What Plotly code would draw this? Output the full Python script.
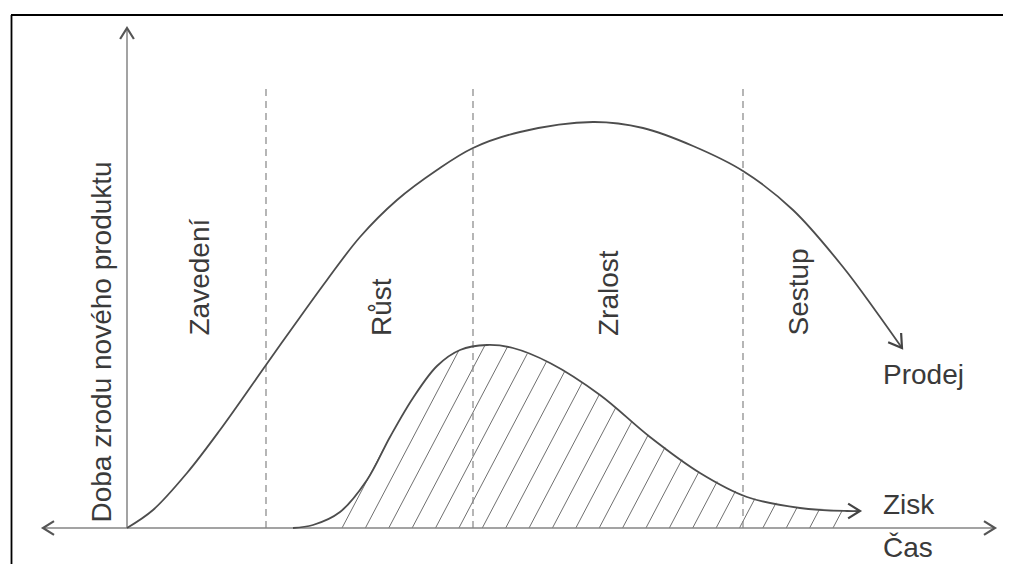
import numpy as np
import plotly.graph_objects as go

# ---- data (time units along x, value units along y) ----
sales_t = [0, 26, 60, 93, 139, 166, 200, 233, 270, 310, 346, 393, 466, 516, 566, 616, 666, 716, 748, 775]
sales_v = [0, 18, 55, 98, 163, 201, 248, 291, 328, 358, 380, 396, 406, 400, 382, 357, 318, 261, 218, 180]

profit_t = [166, 186, 213, 240, 263, 286, 310, 333, 360, 386, 423, 473, 523, 573, 620, 673, 720, 733]
profit_v = [0, 3, 16, 48, 91, 130, 162, 178, 183, 180, 165, 133, 91, 55, 31, 20, 17, 17]

phase_bounds = [139, 346, 616]
phase_names = ["Zavedení", "Růst", "Zralost", "Sestup"]
phase_label_t = [72, 254, 481, 671]

axis_left_t = -84
axis_right_t = 868
axis_top_v = 500
phase_top_v = 440

# ---- style ----
FONT = "Liberation Sans, Arial, sans-serif"
TXT = "#3a3a3a"
CURVE = "#4d4d4d"
AXIS = "#858585"
HATCH = "#707070"
FS = 28

hatch_start = 215.0
hatch_step = 23.38
hatch_count = 22
hatch_slope = 1.9

# page offset of the browser (default body margin)
OFF = 8

fig = go.Figure()

def chevron(tip, direction, L=13.0, ang=32.0):
    d = np.array(direction, float)
    d /= np.linalg.norm(d)
    b = -d
    pts = []
    for s in (1, -1):
        a = np.radians(ang) * s
        r = np.array([b[0]*np.cos(a) - b[1]*np.sin(a), b[0]*np.sin(a) + b[1]*np.cos(a)])
        pts.append(np.array(tip) + L*r)
    return [pts[0][0], tip[0], pts[1][0]], [pts[0][1], tip[1], pts[1][1]]

# hatch lines under profit curve
hx, hy = [], []
for k in range(hatch_count):
    tb = hatch_start + k*hatch_step
    s = np.arange(tb, tb + 300, 0.25)
    prof = np.interp(s, profit_t, profit_v, right=-1)
    line = hatch_slope*(s - tb)
    idx = np.argmax(line >= prof)
    hx += [tb, s[idx], None]
    hy += [0, line[idx], None]
fig.add_trace(go.Scatter(x=hx, y=hy, mode="lines", line=dict(color=HATCH, width=1), hoverinfo="skip"))

# phase boundaries
for b in phase_bounds:
    fig.add_trace(go.Scatter(x=[b, b], y=[0, phase_top_v], mode="lines",
                             line=dict(color=AXIS, width=1.2, dash="7px,5px"), hoverinfo="skip"))

# axes
fig.add_trace(go.Scatter(x=[axis_left_t, axis_right_t], y=[0, 0], mode="lines",
                         line=dict(color=AXIS, width=1.5), hoverinfo="skip"))
fig.add_trace(go.Scatter(x=[0, 0], y=[0, axis_top_v], mode="lines",
                         line=dict(color=AXIS, width=1.5), hoverinfo="skip"))
for tip, d in [((0, axis_top_v), (0, 1)), ((axis_right_t, 0), (1, 0)), ((axis_left_t, 0), (-1, 0))]:
    cx, cy = chevron(tip, d)
    fig.add_trace(go.Scatter(x=cx, y=cy, mode="lines", line=dict(color="#555555", width=2.2), hoverinfo="skip"))

# curves
fig.add_trace(go.Scatter(x=sales_t, y=sales_v, mode="lines",
                         line=dict(color=CURVE, width=1.8, shape="spline", smoothing=1.0), hoverinfo="skip"))
fig.add_trace(go.Scatter(x=profit_t, y=profit_v, mode="lines",
                         line=dict(color=CURVE, width=1.8, shape="spline", smoothing=1.0), hoverinfo="skip"))

cx, cy = chevron((sales_t[-1], sales_v[-1]), (sales_t[-1]-sales_t[-2], sales_v[-1]-sales_v[-2]), L=15)
fig.add_trace(go.Scatter(x=cx, y=cy, mode="lines", line=dict(color="#444444", width=2.2), hoverinfo="skip"))
cx, cy = chevron((profit_t[-1], profit_v[-1]), (profit_t[-1]-profit_t[-2], profit_v[-1]-profit_v[-2]), L=14)
fig.add_trace(go.Scatter(x=cx, y=cy, mode="lines", line=dict(color="#444444", width=2.2), hoverinfo="skip"))

ann = []
ann.append(dict(x=-26, y=3, text="Doba zrodu nového produktu", textangle=-90,
                xanchor="center", yanchor="bottom", showarrow=False))
for name, t in zip(phase_names, phase_label_t):
    ann.append(dict(x=t, y=190, text=name, textangle=-90, xanchor="center", yanchor="bottom", showarrow=False))
ann.append(dict(x=754, y=154, text="Prodej", xanchor="left", yanchor="middle", showarrow=False))
ann.append(dict(x=754, y=24, text="Zisk", xanchor="left", yanchor="middle", showarrow=False))
ann.append(dict(x=754, y=-19, text="Čas", xanchor="left", yanchor="middle", showarrow=False))
for a in ann:
    a.update(xref="x", yref="y", font=dict(family=FONT, size=FS, color=TXT))

W, H = 1011, 564
shapes = [
    dict(type="line", xref="paper", yref="paper", x0=(11-OFF)/W, x1=1, y0=1-(15-OFF)/H, y1=1-(15-OFF)/H,
         line=dict(color="black", width=2.2)),
    dict(type="line", xref="paper", yref="paper", x0=(11.5-OFF)/W, x1=(11.5-OFF)/W, y0=0, y1=1-(15-OFF)/H,
         line=dict(color="black", width=1.8)),
]

fig.update_layout(
    width=W, height=H, autosize=False,
    margin=dict(l=0, r=0, t=0, b=0),
    paper_bgcolor="white", plot_bgcolor="white",
    showlegend=False, hovermode=False,
    xaxis=dict(range=[-127 + OFF, 884 + OFF], visible=False, fixedrange=True),
    yaxis=dict(range=[-36 - OFF, 528 - OFF], visible=False, fixedrange=True),
    annotations=ann, shapes=shapes,
)

fig.write_html("out.html")
